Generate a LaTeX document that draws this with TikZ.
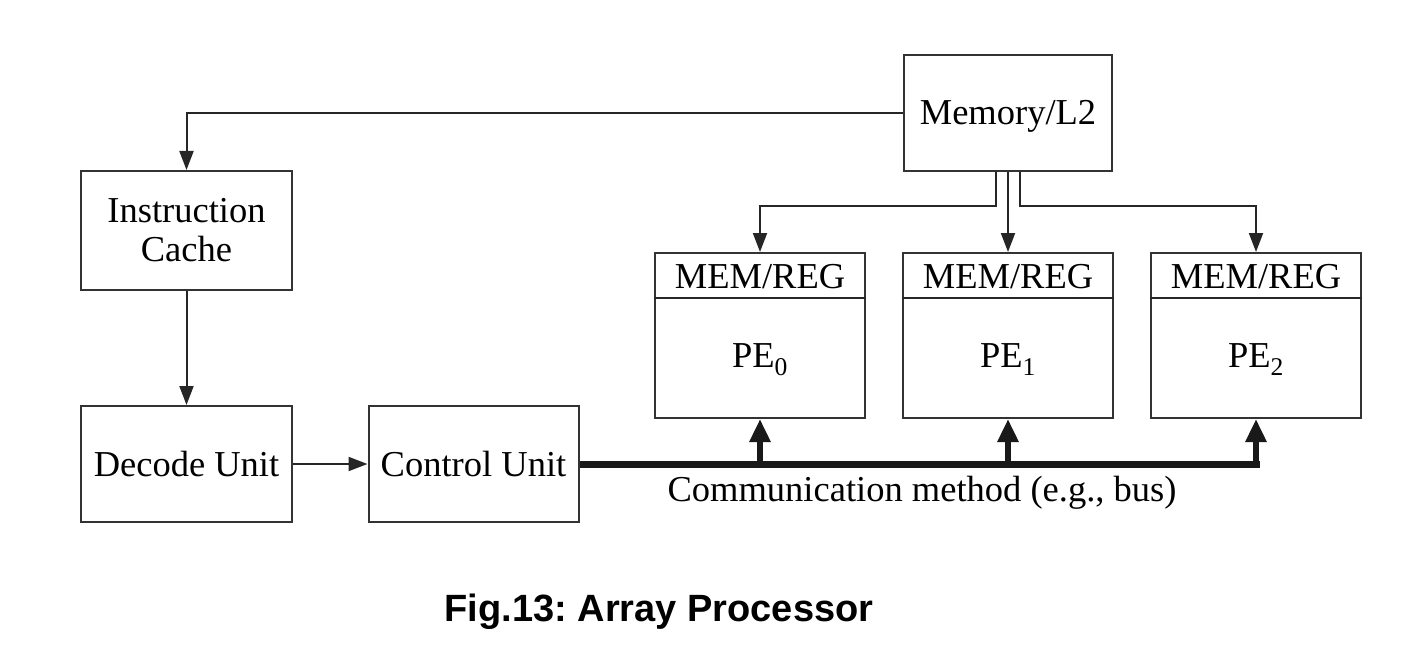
\documentclass[tikz,border=0pt]{standalone}
\usepackage{fontspec}
\setmainfont{Liberation Serif}
\newfontfamily\capfont{Liberation Sans}
\usetikzlibrary{arrows.meta,calc}
\frenchspacing
\tikzset{
  box/.style={draw=black!80, line width=2pt, inner sep=0pt, font=\fontsize{36.5}{39}\selectfont, align=center},
  cap1/.style={text height=24pt, text depth=0pt},
  lbl/.style={inner sep=0pt, font=\fontsize{36.5}{39}\selectfont, text height=24pt, text depth=0pt},
  arr/.style={draw=black!85, line width=2pt, -{Triangle[length=19pt,width=14pt]}},
  ln/.style={draw=black!85, line width=2pt},
  bus/.style={draw=black!90, line width=7pt},
  busarr/.style={draw=black!90, line width=6pt, -{Triangle[length=23pt,width=20pt]}},
}
\begin{document}
\begin{tikzpicture}[x=1pt,y=-1pt]
\useasboundingbox (0,0) rectangle (1426,655);
% main boxes
\node[box, cap1, minimum width=208pt, minimum height=116pt] (mem) at (1008,113) {Memory/L2};
\node[box, minimum width=211pt, minimum height=119pt] (ic) at (186.5,230.5) {Instruction\\Cache};
\node[box, cap1, minimum width=211pt, minimum height=116pt] (dec) at (186.5,464) {Decode Unit};
\node[box, cap1, minimum width=210pt, minimum height=116pt] (ctl) at (473.5,464) {Control Unit};
% PE boxes
\foreach \i/\x in {0/760,1/1008,2/1256}{
  \node[box, minimum width=210pt, minimum height=165pt] (pe\i) at (\x,335.5) {};
  \draw[ln] ($(pe\i.north west)+(0,46)$) -- ($(pe\i.north east)+(0,46)$);
  \node[lbl] (mr\i) at (\x,276) {MEM/REG};
  \node[lbl] (p\i) at (\x,355) {PE\textsubscript{\i}};
}
% memory to instruction cache
\draw[arr] (mem.west) -| (ic.north);
\draw[arr] (ic.south) -- (dec.north);
\draw[arr] (dec.east) -- (ctl.west);
% memory to PEs
\draw[arr] ($(mem.south)+(-12,0)$) |- ($(pe0.north)+(0,-46)$) -- (pe0.north);
\draw[arr] (mem.south) -- (pe1.north);
\draw[arr] ($(mem.south)+(12,0)$) |- ($(pe2.north)+(0,-46)$) -- (pe2.north);
% bus
\coordinate (b0) at (pe0.south |- ctl.east);
\coordinate (b1) at (pe1.south |- ctl.east);
\coordinate (b2) at (pe2.south |- ctl.east);
\draw[bus] (ctl.east) -- ($(b2)+(3.5,0)$);
\draw[busarr] ($(b0)+(0,3)$) -- (pe0.south);
\draw[busarr] ($(b1)+(0,3)$) -- (pe1.south);
\draw[busarr] ($(b2)+(0,3)$) -- (pe2.south);
\node[lbl] (cm) at (922,489) {Communication method (e.g., bus)};
% caption
\node[inner sep=0pt, font=\capfont\bfseries\fontsize{38}{42}\selectfont] (cap) at (659,612) {Fig.13: Array Processor};
\end{tikzpicture}
\end{document}
